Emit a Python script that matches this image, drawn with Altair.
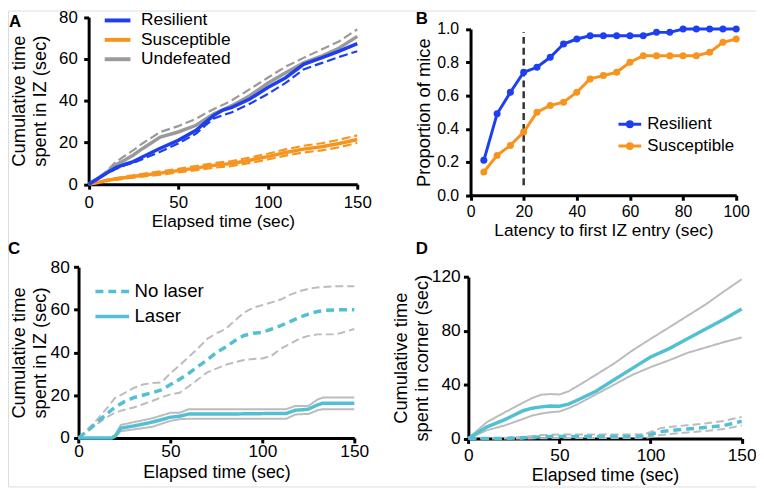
import altair as alt
import pandas as pd

FONT = "Liberation Sans"
BLUE = "#1e3ff0"
ORANGE = "#f7941d"
GRAY = "#9a9a9a"
CYAN = "#52c0d2"
LGRAY = "#bcbcbc"
DARK = "#333333"

W, H = 756, 481

# ---------------- Panel A data ----------------
a_t = [0, 5, 10, 15, 20, 25, 30, 40, 50, 60, 65, 70, 75, 80, 90, 100, 110, 120, 130, 140, 150]
a_res_mean = [0, 2.6, 5.3, 7.8, 9.5, 10.8, 13.0, 17.2, 21.0, 25.8, 29.5, 33.0, 35.5, 36.8, 40.8, 46.3, 51.0, 57.4, 60.5, 63.7, 67.3]
a_res_low = [0, 2.3, 5.0, 7.2, 9.0, 10.2, 12.0, 15.5, 19.5, 24.2, 28.0, 31.5, 33.0, 34.5, 38.5, 43.2, 48.5, 55.0, 58.0, 61.0, 63.7]
a_und_mean = [0, 2.6, 5.6, 9.2, 11.5, 14.0, 17.0, 22.6, 25.0, 28.2, 31.0, 33.7, 35.6, 37.6, 42.4, 48.4, 53.4, 58.1, 61.3, 65.2, 70.8]
a_und_up = [0, 2.8, 6.2, 10.5, 13.5, 16.3, 19.5, 25.0, 27.8, 31.3, 33.8, 36.0, 38.0, 40.2, 45.5, 51.0, 56.3, 60.5, 64.5, 68.5, 74.2]
a_sus_mean = [0, 0.8, 1.8, 2.5, 3.1, 3.7, 4.3, 5.3, 6.5, 7.7, 8.4, 9.0, 9.5, 9.9, 11.5, 13.2, 15.2, 16.8, 17.9, 19.5, 21.4]
a_sus_up = [0, 1.0, 2.1, 2.9, 3.6, 4.3, 5.0, 6.1, 7.4, 8.7, 9.4, 10.1, 10.6, 11.1, 12.8, 14.6, 16.7, 18.4, 19.6, 21.3, 23.4]
a_sus_low = [0, 0.6, 1.5, 2.1, 2.6, 3.1, 3.6, 4.5, 5.6, 6.7, 7.3, 7.9, 8.3, 8.7, 10.2, 11.8, 13.7, 15.2, 16.2, 17.7, 19.8]
a_series = ["Resilient", "Susceptible", "Undefeated"]

# ---------------- Panel B data ----------------
b_lat = [5, 10, 15, 20, 25, 30, 35, 40, 45, 50, 55, 60, 65, 70, 75, 80, 85, 90, 95, 100]
b_res = [0.21, 0.49, 0.62, 0.74, 0.77, 0.83, 0.91, 0.94, 0.96, 0.96, 0.96, 0.96, 0.96, 0.98, 0.98, 1.0, 1.0, 1.0, 1.0, 1.0]
b_sus = [0.14, 0.24, 0.30, 0.38, 0.50, 0.54, 0.56, 0.62, 0.70, 0.72, 0.74, 0.80, 0.84, 0.84, 0.84, 0.84, 0.84, 0.86, 0.92, 0.94]
b_cut_x = [20]
b_cut_lo = [0.06]
b_cut_hi = [0.98]
b_series = ["Resilient", "Susceptible"]

# ---------------- Panel C data ----------------
c_nl_t = [0, 5, 10, 15, 20, 25, 30, 35, 40, 45, 50, 55, 60, 65, 70, 75, 80, 85, 90, 95, 100, 105, 110, 115, 120, 125, 130, 135, 140, 150]
c_nl_mean = [0, 3.5, 7.3, 11.0, 14.5, 17.0, 18.9, 20.0, 21.2, 22.5, 25.0, 27.5, 30.3, 33.5, 36.5, 40.0, 42.6, 45.5, 48.0, 49.0, 49.5, 51.0, 52.6, 54.5, 56.4, 58.0, 59.2, 59.8, 60.0, 60.0]
c_nl_up = [0, 4.0, 8.5, 13.5, 18.9, 21.0, 23.4, 25.0, 25.7, 26.0, 30.3, 34.0, 38.0, 42.0, 46.4, 49.0, 51.0, 55.0, 58.7, 61.0, 62.2, 63.5, 64.8, 67.0, 68.7, 69.8, 70.5, 70.8, 71.0, 71.0]
c_nl_low = [0, 3.0, 6.5, 9.5, 12.0, 13.2, 14.3, 15.8, 17.3, 19.0, 20.4, 21.2, 24.2, 27.5, 30.7, 32.5, 34.2, 35.5, 36.5, 37.0, 37.2, 38.5, 41.8, 44.0, 46.4, 47.8, 48.5, 48.5, 48.5, 51.0]
c_l_t = [0, 18, 20, 23, 30, 40, 50, 55, 60, 70, 80, 90, 100, 113, 118, 123, 125, 130, 133, 150]
c_l_mean = [0, 0, 1.0, 4.6, 5.6, 7.4, 9.7, 10.2, 11.2, 11.2, 11.2, 11.3, 11.4, 11.5, 13.0, 13.3, 13.5, 15.5, 16.3, 16.3]
c_l_up = [0, 0, 1.5, 6.1, 7.4, 9.2, 11.8, 11.8, 13.5, 13.5, 13.5, 13.5, 13.5, 13.5, 15.0, 15.0, 15.0, 18.0, 18.9, 18.9]
c_l_low = [0, 0, 0.5, 3.2, 4.0, 5.2, 8.0, 8.8, 9.0, 9.0, 9.0, 9.0, 9.0, 9.0, 11.0, 11.2, 11.2, 13.0, 13.5, 13.5]
c_conds = ["No laser", "Laser"]

# ---------------- Panel D data ----------------
d_l_t = [0, 10, 20, 30, 35, 40, 45, 50, 55, 60, 70, 80, 90, 100, 110, 120, 130, 140, 150]
d_l_mean = [0, 8.5, 14.0, 20.6, 22.5, 23.5, 24.2, 24.0, 25.5, 28.6, 35.1, 43.6, 52.1, 60.6, 66.6, 73.9, 81.2, 88.4, 96.2]
d_l_up = [0, 12.0, 19.4, 26.6, 30.0, 32.5, 33.0, 32.7, 35.0, 39.0, 47.3, 55.7, 65.4, 74.0, 82.4, 90.9, 99.4, 109.0, 118.3]
d_l_low = [0, 6.0, 9.7, 14.5, 17.0, 18.5, 19.5, 20.0, 22.5, 25.5, 32.7, 40.0, 47.3, 53.0, 58.0, 63.5, 67.5, 71.5, 75.1]
d_nl_t = [0, 20, 30, 40, 50, 60, 70, 80, 90, 97, 105, 110, 120, 130, 140, 150]
d_nl_mean = [0, 0, 0.5, 1.2, 1.5, 1.5, 1.5, 1.5, 1.5, 1.6, 5.0, 5.8, 7.0, 8.2, 9.5, 12.8]
d_nl_up = [0, 0.3, 1.2, 2.5, 3.0, 3.0, 3.0, 3.0, 3.0, 3.2, 7.5, 8.5, 9.8, 11.2, 13.0, 16.0]
d_nl_low = [0, 0, 0, 0.2, 0.3, 0.3, 0.3, 0.3, 0.3, 0.3, 2.5, 3.2, 4.5, 5.5, 7.0, 9.7]


def frame(t, v, name=""):
    return pd.DataFrame({"t": t, "v": v, "s": [name] * len(t)})


def axis(orient, offset, values, title, lfs, tfs, lpad, tpad, fmt=None, lh=21):
    kw = dict(orient=orient, offset=offset, values=values, title=title, grid=False,
              domainColor="black", domainWidth=3, tickColor="black", tickWidth=3, tickSize=5,
              labelFontSize=lfs, titleFontSize=tfs, labelPadding=lpad, titlePadding=tpad,
              labelColor="black", titleColor="black", labelFont=FONT, titleFont=FONT,
              titleFontWeight="normal", labelFlush=False, labelOverlap=False, zindex=0)
    if orient == "left":
        kw["titleLineHeight"] = lh
    if fmt:
        kw["format"] = fmt
    return alt.Axis(**kw)


def letter(ch, px, py):
    return alt.Chart(pd.DataFrame({"s": [ch]})).mark_text(
        align="left", baseline="alphabetic", font=FONT, fontSize=17, fontWeight="bold", color="black"
    ).encode(x=alt.value(px), y=alt.value(py), text="s:N")


def line_legend(x, y, fs, row_pad, label_off, length, unit, sw, extra=""):
    half = length / 2.0 / unit
    return alt.Legend(orient="none", legendX=x, legendY=y, title=None,
                      symbolType="M%.3f,0H%.3f" % (-half, half) + extra, symbolSize=(2 * unit) ** 2,
                      symbolStrokeWidth=sw, labelFontSize=fs, labelFont=FONT, labelColor="black",
                      labelOffset=label_off, rowPadding=row_pad, padding=0, offset=0)


def circle_path(r):
    return "M%.3f,0A%.3f,%.3f,0,1,1,%.3f,0A%.3f,%.3f,0,1,1,%.3f,0" % (-r, r, r, r, r, r, -r)


# ---------------- Panel A ----------------
AX = alt.X("t:Q", scale=alt.Scale(domain=[0, 150], range=[81.5, 353], nice=False, zero=False),
           axis=axis("bottom", 175.5 - H, [0, 50, 100, 150], "Elapsed time (sec)", 17, 17.5, 6, 2))
AY = alt.Y("v:Q", scale=alt.Scale(domain=[0, 80], range=[175.5, 6.7], nice=False),
           axis=axis("left", -81.5, [0, 20, 40, 60, 80], ["Cumulative time", "spent in IZ (sec)"], 17, 18.5, 6.5, 9.5))
a_color = alt.Color("s:N", scale=alt.Scale(domain=a_series, range=[BLUE, ORANGE, GRAY]),
                    legend=line_legend(102, 1.25, 17.5, 0.6, 15, 26, 5, 4))


def a_sem(t, v, col):
    return alt.Chart(frame(t, v)).mark_line(strokeDash=[9, 4], strokeWidth=2.2, color=col).encode(x=AX, y=AY)


def a_mean(t, v, name):
    return alt.Chart(frame(t, v, name)).mark_line(strokeWidth=3.5).encode(x=AX, y=AY, color=a_color)


panelA = alt.layer(
    a_sem(a_t, a_sus_up, ORANGE), a_sem(a_t, a_sus_low, ORANGE), a_mean(a_t, a_sus_mean, "Susceptible"),
    a_sem(a_t, a_und_up, GRAY), a_mean(a_t, a_und_mean, "Undefeated"),
    a_sem(a_t, a_res_low, BLUE), a_mean(a_t, a_res_mean, "Resilient"),
)

# ---------------- Panel B ----------------
BX = alt.X("t:Q", scale=alt.Scale(domain=[0, 100], range=[467.5, 736], nice=False, zero=False),
           axis=axis("bottom", 186.7 - H, [0, 20, 40, 60, 80, 100], "Latency to first IZ entry (sec)", 16, 17.5, 3, 2.3))
b_yaxis = axis("left", -467.5, [0, 0.2, 0.4, 0.6, 0.8, 1.0], "Proportion of mice", 16, 18.5, 7, 3, fmt=".1f")
b_yscale = alt.Scale(domain=[0, 1], range=[186.7, 18.7], nice=False)
BY = alt.Y("v:Q", scale=b_yscale, axis=b_yaxis)
b_scale = alt.Scale(domain=b_series, range=[BLUE, ORANGE])
b_df = pd.concat([frame(b_lat, b_res, "Resilient"), frame(b_lat, b_sus, "Susceptible")])
b_leg = line_legend(620, 106.5, 17, 4, 9, 23, 5, 3, circle_path(0.5) + circle_path(0.24))
b_cut = pd.DataFrame({"t": b_cut_x, "lo": b_cut_lo, "hi": b_cut_hi})
panelB = alt.layer(
    alt.Chart(b_cut).mark_rule(strokeDash=[7, 4], strokeWidth=2.5, color=DARK).encode(
        x=BX, y=alt.Y("lo:Q", scale=b_yscale, axis=b_yaxis), y2="hi:Q"),
    alt.Chart(b_df).mark_line(strokeWidth=3).encode(
        x=BX, y=BY, color=alt.Color("s:N", scale=b_scale, legend=b_leg)),
    alt.Chart(b_df).mark_point(filled=True, size=50, opacity=1).encode(
        x=BX, y=BY, color=alt.Color("s:N", scale=b_scale, legend=None)),
)

# ---------------- Panel C ----------------
CX = alt.X("t:Q", scale=alt.Scale(domain=[0, 150], range=[71.3, 350], nice=False, zero=False),
           axis=axis("bottom", 432 - H, [0, 50, 100, 150], "Elapsed time (sec)", 17.5, 18, 0, 3.5))
CY = alt.Y("v:Q", scale=alt.Scale(domain=[0, 80], range=[432, 259.3], nice=False),
           axis=axis("left", -71.3, [0, 20, 40, 60, 80], ["Cumulative time", "spent in IZ (sec)"], 17.5, 18.5, 4.3, 1))
c_dash = alt.StrokeDash("s:N", scale=alt.Scale(domain=c_conds, range=[[8, 5], [1, 0]]),
                        legend=line_legend(96, 274.6, 18.8, 5.2, 13, 34, 5, 3.5))


def gray(t, v, dash, X, Y):
    return alt.Chart(frame(t, v)).mark_line(strokeDash=dash, strokeWidth=2, color=LGRAY).encode(x=X, y=Y)


panelC = alt.layer(
    gray(c_nl_t, c_nl_up, [8, 4], CX, CY), gray(c_nl_t, c_nl_low, [8, 4], CX, CY),
    gray(c_l_t, c_l_up, [1, 0], CX, CY), gray(c_l_t, c_l_low, [1, 0], CX, CY),
    alt.Chart(frame(c_nl_t, c_nl_mean, "No laser")).mark_line(strokeWidth=3.5, color=CYAN).encode(
        x=CX, y=CY, strokeDash=c_dash),
    alt.Chart(frame(c_l_t, c_l_mean, "Laser")).mark_line(strokeWidth=3.5, color=CYAN).encode(
        x=CX, y=CY, strokeDash=c_dash),
)

# ---------------- Panel D ----------------
DX = alt.X("t:Q", scale=alt.Scale(domain=[0, 150], range=[465.3, 741.5], nice=False, zero=False),
           axis=axis("bottom", 432.5 - H, [0, 50, 100, 150], "Elapsed time (sec)", 17.5, 18, 3, 3))
DY = alt.Y("v:Q", scale=alt.Scale(domain=[0, 120], range=[432.5, 269.3], nice=False),
           axis=axis("left", -465.3, [0, 40, 80, 120], ["Cumulative time", "spent in corner (sec)"], 17.5, 18.5, 3.3, 0))

panelD = alt.layer(
    gray(d_l_t, d_l_up, [1, 0], DX, DY), gray(d_l_t, d_l_low, [1, 0], DX, DY),
    gray(d_nl_t, d_nl_up, [8, 4], DX, DY), gray(d_nl_t, d_nl_low, [8, 4], DX, DY),
    alt.Chart(frame(d_nl_t, d_nl_mean)).mark_line(strokeWidth=3.5, color=CYAN, strokeDash=[8, 5]).encode(x=DX, y=DY),
    alt.Chart(frame(d_l_t, d_l_mean)).mark_line(strokeWidth=3.5, color=CYAN).encode(x=DX, y=DY),
)

chart = alt.layer(
    panelA, panelB, panelC, panelD,
    letter("A", 1, 17), letter("B", 412, 14), letter("C", 0, 246), letter("D", 412, 246),
).resolve_scale(
    x="independent", y="independent", color="independent", strokeDash="independent"
).properties(
    width=W, height=H, padding=0, autosize=alt.AutoSizeParams(type="none")
).configure_view(stroke=None).configure(font=FONT)

chart.save("out.html", embed_options={"renderer": "svg", "actions": False})
